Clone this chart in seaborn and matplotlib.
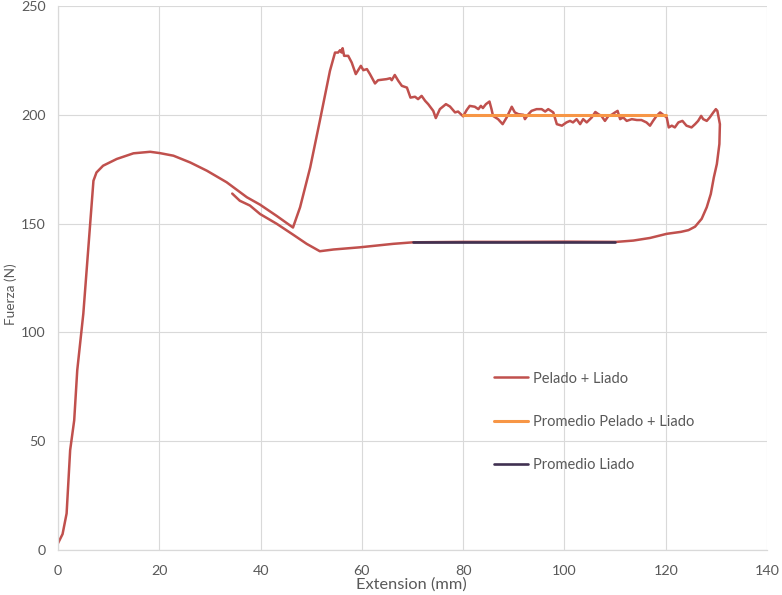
import matplotlib
matplotlib.use("Agg")
import matplotlib.pyplot as plt
import seaborn as sns
import pandas as pd

# Load-extension trace (peel + tie test), ordered along the recorded path
ext_mm = [
    0.0, 0.9, 1.7, 2.4, 3.2, 3.8, 4.3, 5.0, 5.5, 7.0, 7.6, 8.9, 11.6, 14.9,
    18.2, 20.1, 22.8, 26.1, 29.4, 33.3, 37.3, 39.9, 43.2, 46.4, 47.8, 49.8,
    51.7, 53.7, 54.7, 55.3, 55.7, 56.0, 56.2, 56.5, 57.3, 58.0, 58.8, 59.8,
    60.3, 61.0, 61.6, 62.6, 63.2, 64.9, 65.6, 65.9, 66.5, 67.2, 67.9, 68.9,
    69.6, 70.5, 71.1, 71.8, 72.5, 73.1, 74.1, 74.6, 75.4, 76.6, 77.4, 78.4,
    79.0, 80.0, 80.7, 81.3, 82.3, 83.0, 83.5, 83.9, 84.5, 85.2, 85.6, 85.9,
    86.9, 87.8, 88.6, 89.6, 90.2, 90.9, 91.9, 92.2, 92.9, 93.5, 94.5, 95.5,
    96.2, 96.8, 97.8, 98.5, 99.5, 100.4, 101.1, 101.7, 102.4, 103.1, 103.7,
    104.4, 105.4, 106.1, 106.7, 107.3, 108.0, 108.7, 109.3, 110.0, 110.5,
    111.0, 111.6, 112.3, 113.3, 114.3, 115.2, 116.2, 116.9, 117.5, 118.2,
    118.9, 119.5, 120.2, 120.6, 121.2, 121.8, 122.5, 123.3, 124.1, 125.1,
    125.8, 126.4, 127.0, 127.4, 128.1, 128.7, 129.4, 129.9, 130.2, 130.7,
    130.6, 130.1, 129.5, 128.9, 128.1, 127.1, 125.8, 124.5, 123.0, 120.2,
    116.9, 113.6, 110.3, 100.0, 90.0, 80.0, 70.1, 66.2, 59.6, 54.4, 51.7,
    49.1, 46.5, 43.2, 39.9, 37.9, 35.9, 34.4,
]
fuerza_n = [
    3.1, 7.3, 16.8, 45.9, 59.6, 82.6, 93.3, 108.6, 123.9, 169.7, 173.5, 176.6,
    179.7, 182.3, 183.0, 182.4, 181.2, 178.1, 174.3, 169.0, 162.1, 158.7, 153.5,
    148.2, 157.5, 175.8, 197.2, 220.2, 228.6, 228.6, 229.7, 228.6, 230.6, 227.1,
    227.1, 224.0, 218.7, 222.5, 220.5, 221.0, 218.7, 214.4, 215.9, 216.4, 216.8,
    215.9, 218.3, 215.6, 213.3, 212.5, 207.9, 208.3, 207.2, 208.7, 206.4, 204.9,
    201.8, 198.5, 202.6, 204.9, 203.8, 201.1, 201.5, 199.3, 202.2, 204.1, 203.7,
    202.6, 204.1, 203.1, 204.9, 206.1, 202.6, 199.5, 198.0, 195.7, 198.8, 203.7,
    201.1, 200.3, 200.0, 198.0, 200.3, 201.8, 202.6, 202.6, 201.5, 202.6, 201.1,
    195.7, 195.0, 196.5, 197.2, 196.5, 198.0, 195.7, 198.0, 196.5, 198.8, 201.3,
    200.3, 199.5, 197.2, 199.5, 200.0, 201.1, 201.8, 198.0, 198.8, 197.2, 198.0,
    197.6, 197.6, 196.5, 195.0, 197.2, 199.5, 201.1, 200.0, 198.8, 194.2, 195.0,
    194.2, 196.5, 197.2, 195.0, 194.2, 195.7, 197.2, 199.5, 198.0, 197.2, 198.8,
    201.1, 202.6, 201.8, 195.7, 186.6, 177.4, 171.2, 163.6, 157.5, 152.2, 148.6,
    147.0, 146.2, 145.3, 143.4, 142.2, 141.6, 141.7, 141.6, 141.6, 141.4, 140.7,
    139.1, 138.1, 137.3, 140.7, 144.8, 149.9, 154.4, 158.3, 160.5, 163.8,
]

# Average force over the steady peel + tie region
prom_pl_ext = [80, 120]
prom_pl_val = 200.0

# Average force over the tie-only region
prom_l_ext = [70, 110]
prom_l_val = 141.6

labels = ["Pelado + Liado", "Promedio Pelado + Liado", "Promedio Liado"]
colors = ["#C0504D", "#F79646", "#403151"]

x_ticks = list(range(0, 141, 20))
y_ticks = list(range(0, 251, 50))

sns.set_theme(style="white")
plt.rcParams["font.family"] = ["Lato", "DejaVu Sans"]
text_color = "#595959"
grid_color = "#D9D9D9"

fig, ax = plt.subplots(figsize=(7.82, 5.95), dpi=100)
fig.subplots_adjust(left=58 / 782, right=767 / 782, top=1 - 6 / 595, bottom=1 - 550 / 595)

trace = pd.DataFrame({"x": ext_mm, "y": fuerza_n})
sns.lineplot(data=trace, x="x", y="y", sort=False, estimator=None, ax=ax,
             color=colors[0], linewidth=1.8, label=labels[0])

avg_pl = pd.DataFrame({"x": prom_pl_ext, "y": [prom_pl_val] * len(prom_pl_ext)})
sns.lineplot(data=avg_pl, x="x", y="y", sort=False, estimator=None, ax=ax,
             color=colors[1], linewidth=2.2, label=labels[1])

avg_l = pd.DataFrame({"x": prom_l_ext, "y": [prom_l_val] * len(prom_l_ext)})
sns.lineplot(data=avg_l, x="x", y="y", sort=False, estimator=None, ax=ax,
             color=colors[2], linewidth=1.9, label=labels[2])

ax.set_xlim(0, 140)
ax.set_ylim(0, 250)
ax.set_xticks(x_ticks)
ax.set_yticks(y_ticks)
ax.grid(True, color=grid_color, linewidth=0.8)
ax.set_axisbelow(True)
for side in ("top", "right"):
    ax.spines[side].set_visible(False)
for side in ("left", "bottom"):
    ax.spines[side].set_color(grid_color)
    ax.spines[side].set_linewidth(0.9)

ax.tick_params(axis="both", length=0, labelsize=10.3, labelcolor=text_color)
ax.tick_params(axis="y", pad=9)
ax.tick_params(axis="x", pad=11)

ax.set_xlabel("Extension (mm)", fontsize=11.8, color=text_color)
ax.set_ylabel("Fuerza (N)", fontsize=9.8, color=text_color)
ax.xaxis.set_label_coords(0.498, -0.050)
ax.yaxis.set_label_coords(-0.058, 0.47)

leg = ax.legend(loc="upper left", bbox_to_anchor=(0.615, 0.328), frameon=False,
                fontsize=10.5, handlelength=2.35, handletextpad=0.3,
                labelspacing=2.0, borderpad=0, borderaxespad=0)
for t in leg.get_texts():
    t.set_color(text_color)

fig.savefig("out.png", dpi=100)
